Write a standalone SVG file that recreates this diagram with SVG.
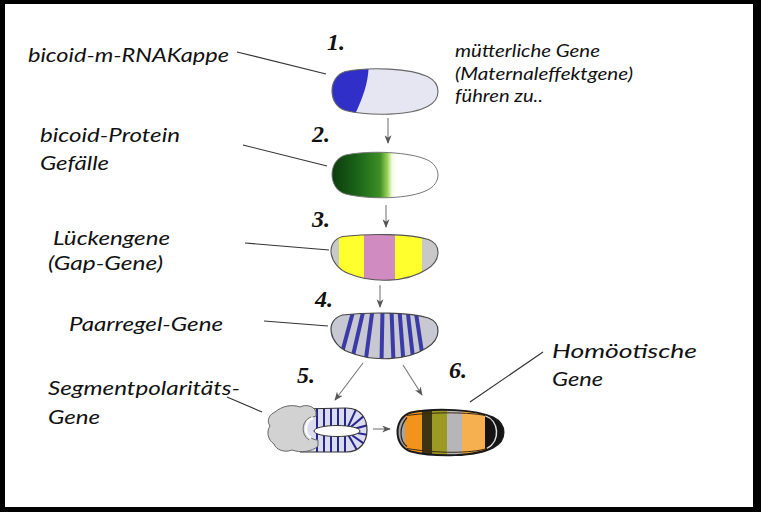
<svg xmlns="http://www.w3.org/2000/svg" width="761" height="512" viewBox="0 0 761 512">
<style>
.lbl{font-family:Lato,"Open Sans","Liberation Sans",sans-serif;font-style:italic;font-size:20px;fill:#111}
.sm{font-family:Lato,"Open Sans","Liberation Sans",sans-serif;font-style:italic;font-size:17px;fill:#111}
.num{font-family:"Liberation Serif","DejaVu Serif",serif;font-style:italic;font-weight:bold;font-size:24px;fill:#111}
.lead{stroke:#333;stroke-width:1.2;fill:none}
.arr{stroke:#777;stroke-width:1.1;fill:none;marker-end:url(#ah)}
</style>
<defs>
<marker id="ah" viewBox="0 0 10 8" refX="9" refY="4" markerWidth="9" markerHeight="7" markerUnits="userSpaceOnUse" orient="auto">
<path d="M0,0 L10,4 L0,8 L3,4 Z" fill="#555"/>
</marker>
<path id="egg" d="M -40,-20 C -15,-25 25,-23 42,-15 C 56,-8 56,8 42,15 C 25,24 -15,25 -40,19 C -58,14 -58,-15 -40,-20 Z"/>
<path id="bowl" d="M -42,-21 C -15,-24 25,-24 44,-18 C 57,-13 57,3 42,12 C 22,25 -12,26 -36,16 C -56,8 -60,-16 -42,-21 Z"/>
<clipPath id="cEgg"><use href="#egg"/></clipPath>
<clipPath id="cBowl"><use href="#bowl"/></clipPath>
<clipPath id="cRing"><path d="M 300,409 L 346,408 C 362,408 367,420 367,430 C 367,442 360,452 346,452 L 300,452 Z"/></clipPath>
<linearGradient id="gGreen" gradientUnits="userSpaceOnUse" x1="-54" y1="0" x2="54" y2="0">
<stop offset="0" stop-color="#0b3a0c"/>
<stop offset="0.25" stop-color="#1c661a"/>
<stop offset="0.45" stop-color="#3d8f25"/>
<stop offset="0.52" stop-color="#9fd45a"/>
<stop offset="0.56" stop-color="#f2fae4"/>
<stop offset="0.6" stop-color="#ffffff"/>
</linearGradient>
</defs>
<rect x="0" y="0" width="761" height="512" fill="#000"/>
<rect x="5" y="4" width="748" height="503" fill="#fff"/>

<g id="connectors">
<line class="lead" x1="237" y1="52" x2="326" y2="74"/>
<line class="lead" x1="243" y1="145" x2="327" y2="166"/>
<line class="lead" x1="245" y1="243" x2="329" y2="250"/>
<line class="lead" x1="264" y1="321" x2="328" y2="326"/>
<line class="lead" x1="227" y1="397" x2="262" y2="412"/>
<line class="lead" x1="543" y1="352" x2="470" y2="402"/>
<line class="arr" x1="388" y1="118" x2="388" y2="143"/>
<line class="arr" x1="386" y1="205" x2="386" y2="227"/>
<line class="arr" x1="380" y1="285" x2="380" y2="307"/>
<line class="arr" x1="363" y1="363" x2="335" y2="400"/>
<line class="arr" x1="403" y1="365" x2="422" y2="395"/>
<line class="arr" x1="373" y1="429" x2="390" y2="429"/>
</g>

<g id="embryo1" transform="translate(385.5,91.5)">
<use href="#egg" fill="#e6e6f3"/>
<g clip-path="url(#cEgg)">
<path d="M -60,-30 L -17,-30 C -16,-12 -22,6 -33,28 L -60,30 Z" fill="#3030c8"/>
</g>
<use href="#egg" fill="none" stroke="#666" stroke-width="1.1"/>
</g>

<g id="embryo2" transform="translate(385.5,175)">
<use href="#egg" fill="url(#gGreen)" stroke="#777" stroke-width="1"/>
</g>

<g id="embryo3" transform="translate(384.5,257.5)">
<g clip-path="url(#cBowl)">
<rect x="-60" y="-30" width="120" height="60" fill="#c8c8c8"/>
<rect x="-45.5" y="-30" width="25" height="60" fill="#ffff2e"/>
<rect x="-20.5" y="-30" width="31" height="60" fill="#d08cc0"/>
<rect x="10.5" y="-30" width="27" height="60" fill="#ffff2e"/>
</g>
<use href="#bowl" fill="none" stroke="#555" stroke-width="1.1"/>
</g>

<g id="embryo4" transform="translate(384.5,336)">
<g clip-path="url(#cBowl)">
<rect x="-60" y="-30" width="120" height="60" fill="#c8c8d2"/>
<g stroke="#3a3aa8" stroke-width="4">
<line x1="-31" y1="-26" x2="-45" y2="26"/>
<line x1="-21" y1="-26" x2="-33" y2="26"/>
<line x1="-12" y1="-26" x2="-19" y2="26"/>
<line x1="-2" y1="-26" x2="-3" y2="26"/>
<line x1="7" y1="-26" x2="9" y2="26"/>
<line x1="15" y1="-26" x2="19" y2="26"/>
<line x1="23" y1="-26" x2="29" y2="26"/>
<line x1="31" y1="-26" x2="39" y2="26"/>
</g>
</g>
<use href="#bowl" fill="none" stroke="#444" stroke-width="1.2"/>
</g>

<g id="embryo5">
<path d="M 300,409 L 346,408 C 362,408 367,420 367,430 C 367,442 360,452 346,452 L 300,452 Z" fill="#dcdcf0"/>
<g clip-path="url(#cRing)" stroke="#26268c" stroke-width="2">
<line x1="317" y1="404" x2="317" y2="458"/>
<line x1="324" y1="404" x2="324" y2="458"/>
<line x1="331" y1="404" x2="331" y2="458"/>
<line x1="338" y1="404" x2="338" y2="458"/>
<line x1="345" y1="404" x2="345" y2="458"/>
<line x1="346" y1="431" x2="358.7" y2="403.8"/>
<line x1="346" y1="431" x2="369" y2="411.7"/>
<line x1="346" y1="431" x2="375" y2="423.2"/>
<line x1="346" y1="431" x2="375.5" y2="436.2"/>
<line x1="346" y1="431" x2="370.6" y2="448.2"/>
<line x1="346" y1="431" x2="361" y2="457"/>
</g>
<path d="M 300,409 L 346,408 C 362,408 367,420 367,430 C 367,442 360,452 346,452 L 300,452" fill="none" stroke="#333" stroke-width="1.2"/>
<ellipse cx="337" cy="431" rx="23" ry="5.5" fill="#fff" stroke="#333" stroke-width="1"/>
<path d="M 275,412 C 282,406 292,404 300,407 C 306,404 314,406 316,412 L 316,416 C 308,418 305,424 306,430 C 307,436 312,440 318,440 L 318,446 C 312,452 300,453 292,450 C 285,453 276,450 274,444 C 268,440 266,432 270,426 C 266,420 270,414 275,412 Z" fill="#d2d2d2" stroke="#666" stroke-width="1"/>
<path d="M 313,418 C 305,421 303,433 311,438" fill="none" stroke="#fff" stroke-width="2.5"/>
<path d="M 311,417 C 302,420 300,434 309,440" fill="none" stroke="#555" stroke-width="0.8"/>
</g>

<g id="embryo6" transform="translate(451,432.5)">
<g clip-path="url(#cEgg)">
<rect x="-60" y="-30" width="120" height="60" fill="#a4a4a8"/>
<rect x="-46" y="-30" width="17" height="60" fill="#f2931c"/>
<rect x="-29" y="-30" width="10" height="60" fill="#3d3512"/>
<rect x="-19" y="-30" width="15" height="60" fill="#9c9a22"/>
<rect x="-4" y="-30" width="15" height="60" fill="#b6b6ba"/>
<rect x="11" y="-30" width="23" height="60" fill="#f7b050"/>
<rect x="34" y="-30" width="26" height="60" fill="#141414"/>
</g>
<path d="M 34,-17 C 48,-12 50,8 36,16" fill="none" stroke="#ddd" stroke-width="1.5"/>
<path d="M -44,-15 C -52,-6 -52,8 -44,14" fill="none" stroke="#222" stroke-width="1.2"/>
<path d="M -44,-17 C -15,-21 20,-20 34,-17 M -44,16 C -15,21 20,21 36,16" fill="none" stroke="#3a2a10" stroke-width="1"/>
<use href="#egg" fill="none" stroke="#1a1a1a" stroke-width="2"/>
</g>

<g id="labels">
<text class="lbl" x="28" y="62" textLength="201" lengthAdjust="spacingAndGlyphs">bicoid-m-RNAKappe</text>
<text class="lbl" x="40" y="142" textLength="140" lengthAdjust="spacingAndGlyphs">bicoid-Protein</text>
<text class="lbl" x="40" y="170" textLength="69" lengthAdjust="spacingAndGlyphs">Gefälle</text>
<text class="lbl" x="53" y="245" textLength="117" lengthAdjust="spacingAndGlyphs">Lückengene</text>
<text class="lbl" x="48" y="270" textLength="115" lengthAdjust="spacingAndGlyphs">(Gap-Gene)</text>
<text class="lbl" x="69" y="331" textLength="154" lengthAdjust="spacingAndGlyphs">Paarregel-Gene</text>
<text class="lbl" x="48" y="395" textLength="192" lengthAdjust="spacingAndGlyphs">Segmentpolaritäts-</text>
<text class="lbl" x="48" y="424" textLength="52" lengthAdjust="spacingAndGlyphs">Gene</text>
<text class="lbl" x="552" y="358" textLength="145" lengthAdjust="spacingAndGlyphs">Homöotische</text>
<text class="lbl" x="552" y="386" textLength="51" lengthAdjust="spacingAndGlyphs">Gene</text>
<text class="sm" x="455" y="57" textLength="145" lengthAdjust="spacingAndGlyphs">mütterliche Gene</text>
<text class="sm" x="455" y="80" textLength="178" lengthAdjust="spacingAndGlyphs">(Maternaleffektgene)</text>
<text class="sm" x="455" y="102" textLength="88" lengthAdjust="spacingAndGlyphs">führen zu..</text>
<text class="num" x="327" y="50">1.</text>
<text class="num" x="312" y="142">2.</text>
<text class="num" x="312" y="227">3.</text>
<text class="num" x="315" y="307">4.</text>
<text class="num" x="297" y="383">5.</text>
<text class="num" x="449" y="378">6.</text>
</g>
</svg>
